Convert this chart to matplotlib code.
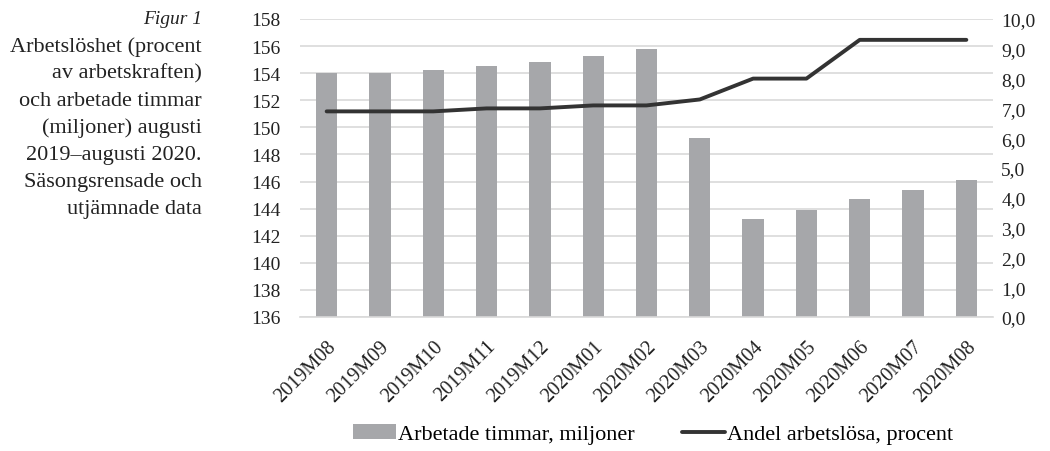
import matplotlib
matplotlib.use("Agg")
import matplotlib.pyplot as plt
from matplotlib.ticker import FuncFormatter

plt.rcParams["font.family"] = ["Liberation Serif", "DejaVu Serif"]

months = ["2019M08", "2019M09", "2019M10", "2019M11", "2019M12", "2020M01",
          "2020M02", "2020M03", "2020M04", "2020M05", "2020M06", "2020M07",
          "2020M08"]
hours = [154.0, 154.05, 154.2, 154.5, 154.8, 155.3, 155.8, 149.2, 143.2,
         143.9, 144.7, 145.4, 146.1]
unemployment = [6.9, 6.9, 6.9, 7.0, 7.0, 7.1, 7.1, 7.3, 8.0, 8.0, 9.3, 9.3, 9.3]

caption = ["Arbetslöshet (procent", "av arbetskraften)", "och arbetade timmar",
           "(miljoner) augusti", "2019–augusti 2020.", "Säsongsrensade och",
           "utjämnade data"]

fig = plt.figure(figsize=(10.5, 4.52), dpi=100)
ax = fig.add_axes([300 / 1050, 1 - 318 / 452, 693 / 1050, 298 / 452])
ax2 = ax.twinx()

x = range(len(months))
bars = ax.bar(x, [h - 136 for h in hours], bottom=136, width=0.4,
              color="#a6a7aa", zorder=2, label="Arbetade timmar, miljoner")
line, = ax2.plot(x, unemployment, color="#333333", linewidth=2.8,
                 solid_capstyle="round", label="Andel arbetslösa, procent")

ax.set_xlim(-0.5, len(months) - 0.5)
ax.set_ylim(136, 158)
ax.set_yticks(range(136, 159, 2))
ax2.set_ylim(0, 10)
ax2.set_yticks(range(0, 11))
ax2.yaxis.set_major_formatter(FuncFormatter(lambda v, p: f"{v:.1f}".replace(".", ",")))

ax.grid(axis="y", color="#d9d9d9", linewidth=1.2, zorder=0)
ax.set_axisbelow(True)
for a in (ax, ax2):
    for s in a.spines.values():
        s.set_visible(False)
    a.tick_params(length=0, labelsize=14, colors="#222222")
ax.spines["bottom"].set_visible(True)
ax.spines["bottom"].set_color("#d9d9d9")
ax.spines["bottom"].set_linewidth(1.2)
ax.tick_params(axis="y", pad=14)
ax2.tick_params(axis="y", pad=6)

ax.set_xticks(list(x))
ax.set_xticklabels(months, rotation=45, ha="right", rotation_mode="anchor",
                   fontsize=14.5)
ax.tick_params(axis="x", pad=14)

# caption on the left
fig.text(202 / 1050, 1 - 20 / 452, "Figur 1", style="italic", ha="right",
         va="center", fontsize=14, color="#222222")
for i, t in enumerate(caption):
    fig.text(202 / 1050, 1 - (47 + 27.1 * i) / 452, t, ha="right",
             va="center", fontsize=16, color="#222222")

fig.legend(handles=[bars, line], loc="center", bbox_to_anchor=(653 / 1050, 1 - 435 / 452),
           ncol=2, frameon=False, fontsize=16, handlelength=1.95,
           handletextpad=0.1, columnspacing=2.1)

fig.savefig("out.png", dpi=100)
